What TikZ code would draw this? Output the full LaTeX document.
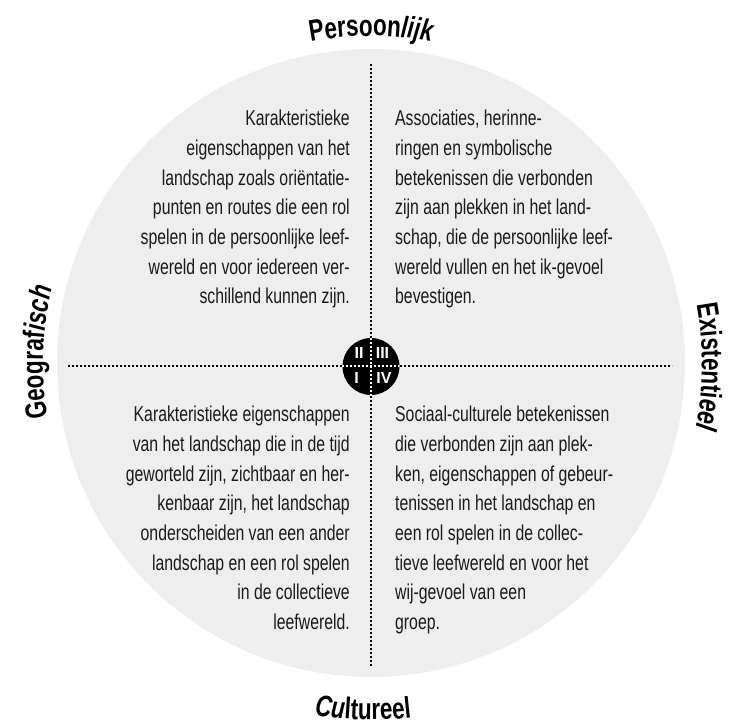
\documentclass[tikz,border=0pt]{standalone}
\usepackage{fontspec}
\setmainfont{Liberation Sans}[FakeStretch=0.735]
\newfontfamily\labelfont{Liberation Sans}[FakeStretch=0.75]
\newfontfamily\numfont{Liberation Sans}
\usetikzlibrary{decorations.text}
\definecolor{discgray}{HTML}{EEEEEE}
\definecolor{inkgray}{HTML}{1A1A1A}
\newcommand{\lbl}{\labelfont\bfseries\fontsize{30}{30}\selectfont}
\newcommand{\lblit}{\labelfont\bfseries\itshape\fontsize{30}{30}\selectfont}
\begin{document}
\begin{tikzpicture}[x=1pt,y=1pt,
	bodytext/.style={font=\fontsize{21.5}{29.7}\selectfont, text=inkgray, inner sep=0pt},
	dotline/.style={line width=2pt, dash pattern=on 2pt off 2pt},
	numeral/.style={font=\numfont\bfseries\fontsize{16}{16}\selectfont, text=white, inner sep=0pt},
	arclabel/.style={decorate, decoration={text along path, text align=center, text={#1}}}]
	\useasboundingbox (-371,-364) rectangle (361,364);
	%disc
	\fill[discgray] (0,1) circle[radius=314];
	%axes
	\coordinate (top) at (0,300);
	\coordinate (bottom) at (0,-303);
	\coordinate (left) at (-303,-2.5);
	\coordinate (right) at (301,-2.5);
	\coordinate (cross) at (0,-2.5);
	\draw[dotline] (top) -- (bottom);
	\draw[dotline] (left) -- (right);
	%medallion
	\fill (cross) circle[radius=28.5];
	\draw[dotline, white] (0,26) -- (0,-31);
	\draw[dotline, white] (-28.5,-2.5) -- (28.5,-2.5);
	\node[numeral] (numII) at (-12,11) {II};
	\node[numeral] (numIII) at (11.5,11) {III};
	\node[numeral] (numI) at (-14.5,-13.5) {I};
	\node[numeral] (numIV) at (13,-13.5) {IV};

	%quadrants
	\node[bodytext, anchor=north east, align=right] (quadII) at (-21,254) {Karakteristieke\\
		eigenschappen van het\\
		landschap zoals oriëntatie-\\
		punten en routes die een rol\\
		spelen in de persoonlijke leef-\\
		wereld en voor iedereen ver-\\
		schillend kunnen zijn.};
	\node[bodytext, anchor=north west, align=left] (quadIII) at (24,254) {Associaties, herinne-\\
		ringen en symbolische\\
		betekenissen die verbonden\\
		zijn aan plekken in het land-\\
		schap, die de persoonlijke leef-\\
		wereld vullen en het ik-gevoel\\
		bevestigen.};
	\node[bodytext, anchor=north east, align=right] (quadI) at (-21,-42) {Karakteristieke eigenschappen\\
		van het landschap die in de tijd\\
		geworteld zijn, zichtbaar en her-\\
		kenbaar zijn, het landschap\\
		onderscheiden van een ander\\
		landschap en een rol spelen\\
		in de collectieve\\
		leefwereld.};
	\node[bodytext, anchor=north west, align=left] (quadIV) at (24,-42) {Sociaal-culturele betekenissen\\
		die verbonden zijn aan plek-\\
		ken, eigenschappen of gebeur-\\
		tenissen in het landschap en\\
		een rol spelen in de collec-\\
		tieve leefwereld en voor het\\
		wij-gevoel van een\\
		groep.};

	%labels
	\path[arclabel={|\lbl|Persoon|\lblit|lijk}] (121:328) arc[start angle=121, end angle=59, radius=328];
	\path[arclabel={|\lbl|Geograf|\lblit|isch}] (203:328) arc[start angle=203, end angle=153, radius=328];
	\path[arclabel={|\lbl|Existenti|\lblit|eel}] (24.5:331) arc[start angle=24.5, end angle=-25.5, radius=331];
	\path[arclabel={|\lblit|Cu|\lbl|ltureel}] (243.7:356) arc[start angle=243.7, end angle=293.7, radius=356];
\end{tikzpicture}
\end{document}
